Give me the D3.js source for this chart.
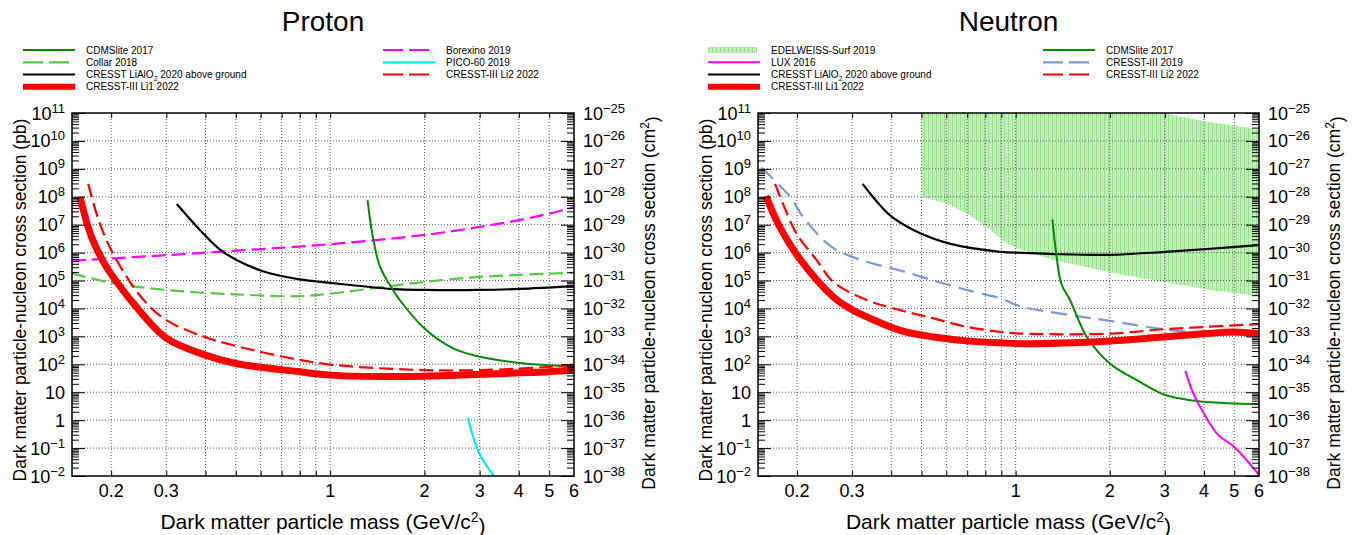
<!DOCTYPE html>
<html>
<head>
<meta charset="utf-8">
<script src="https://cdn.jsdelivr.net/npm/d3@7"></script>
<style>
  body { margin: 0; background: #fff; }
  svg { font-family: "Liberation Sans", Arial, Helvetica, sans-serif; }
</style>
</head>
<body>
<svg id="chart" width="1364" height="535"></svg>
<script>
// ---- data: [mass GeV/c^2, cross section pb] ----
const massGrid = [0.2, 0.3, 0.4, 0.5, 0.6, 0.7, 0.8, 0.9, 1, 2, 3, 4, 5];
const massLabels = [0.2, 0.3, 1, 2, 3, 4, 5, 6];
const pbExponents = d3.range(-2, 12);   // 10^-2 .. 10^11 pb
const cm2Offset = -36;                  // 1 pb = 1e-36 cm^2

// proton
const pCdmslite = [[1.316, 7.6e7], [1.368, 3.7e6], [1.443, 3.1e5], [1.586, 4.6e4], [1.668, 2e4], [2.0, 1.9e3], [2.47, 3.7e2], [3.0, 1.86e2], [4.0, 1.12e2], [5.0, 93], [6.0, 85]];
const pCollar = [[0.15, 1.8e5], [0.2, 8.3e4], [0.3, 4.6e4], [0.5, 3.2e4], [0.8, 2.75e4], [1, 3.4e4], [1.5, 6e4], [2, 8.9e4], [3, 1.35e5], [6, 1.9e5]];
const pLialo = [[0.324, 5.5e7], [0.384, 6.5e6], [0.455, 1.07e6], [0.6, 2.3e5], [0.8, 1.1e5], [1, 8.3e4], [1.6, 4.9e4], [2, 4.6e4], [3, 4.6e4], [4, 5e4], [6, 6.3e4]];
const pLi1 = [[0.159, 1e8], [0.173, 3.7e6], [0.193, 3.1e5], [0.218, 4.5e4], [0.235, 1.55e4], [0.3, 870], [0.4, 214], [0.5, 107], [0.8, 54], [1, 41], [2, 37], [3, 44], [5, 54], [6, 62]];
const pBorexino = [[0.15, 5.1e5], [0.2, 6.2e5], [0.3, 8.1e5], [0.5, 1.17e6], [1, 2e6], [2, 4.3e6], [3, 8.3e6], [4, 1.45e7], [5, 2.5e7], [6, 4.2e7]];
const pPico = [[2.75, 1.2], [3.0, 0.06], [3.38, 0.008]];
const pLi2 = [[0.169, 2.9e8], [0.184, 1.1e7], [0.208, 5.4e5], [0.254, 2e4], [0.3, 3.8e3], [0.383, 1.1e3], [0.49, 480], [0.71, 186], [1, 98], [2, 62], [3, 62], [5, 81], [6, 98]];

// neutron
const nEdelweissLow = [[0.5, 1e8], [0.6, 5.8e7], [0.7, 2.5e7], [0.83, 6.5e6], [0.935, 2.1e6], [1.06, 1.2e6], [1.32, 5.4e5], [2, 2e5], [2.96, 8.9e4], [4.09, 4.8e4], [6, 2.75e4]];
const nEdelweissHigh = [[0.5, 1e11], [2.96, 1e11], [4.09, 4.9e10], [6, 2.6e10]];
const nLux = [[3.49, 58], [3.7, 9], [4.0, 1.7], [4.45, 0.29], [5, 0.11], [6, 0.011]];
const nLialo = [[0.324, 2.9e8], [0.396, 2.2e7], [0.471, 6.5e6], [0.615, 2.1e6], [0.894, 1.07e6], [1.06, 9.8e5], [1.32, 8.9e5], [2, 8.3e5], [3, 1.07e6], [4.1, 1.35e6], [6, 1.86e6]];
const nLi1 = [[0.159, 1.05e8], [0.176, 8.3e6], [0.204, 6e5], [0.261, 2.6e4], [0.295, 1e4], [0.334, 5e3], [0.427, 1.65e3], [0.546, 950], [0.697, 690], [0.894, 590], [1.034, 550], [2, 690], [2.96, 955], [4.09, 1260], [4.97, 1450], [6, 1260]];
const nCdmslite = [[1.311, 1.55e7], [1.352, 7e5], [1.40, 7.5e4], [1.492, 2e4], [1.69, 950], [2, 107], [2.44, 27], [2.96, 8.5], [3.5, 5.5], [4.09, 4.5], [6, 3.7]];
const nCresst3 = [[0.154, 1.1e9], [0.19, 1e8], [0.209, 1.9e7], [0.258, 1.6e6], [0.334, 4.7e5], [0.427, 2.3e5], [0.546, 1e5], [0.697, 4.6e4], [0.894, 2.3e4], [1.034, 1.2e4], [1.492, 5.8e3], [2, 3.6e3], [2.96, 1.8e3], [3.8, 1.35e3]];
const nLi2 = [[0.170, 2.9e8], [0.194, 8.3e6], [0.204, 3.2e6], [0.231, 5.4e5], [0.261, 8.9e4], [0.334, 2e4], [0.427, 8.7e3], [0.546, 4.4e3], [0.697, 2.2e3], [0.894, 1.45e3], [1.034, 1.26e3], [2, 1.26e3], [2.96, 1.8e3], [4.09, 2.2e3], [6, 2.75e3]];

// ---- styles ----
const st = {
  cdms: { color: "#008a00", width: 2 },
  collar: { color: "#55cc44", width: 2.2, dash: "14,6" },
  lialo: { color: "#000", width: 2.2 },
  li1: { color: "#ff0000", width: 7 },
  borexino: { color: "#ff00ff", width: 2.2, dash: "14,6" },
  pico: { color: "#00eeee", width: 2.2 },
  li2: { color: "#ff0000", width: 2.2, dash: "14,6" },
  lux: { color: "#ff00ff", width: 2 },
  cresst3: { color: "#7b9ad6", width: 2.2, dash: "16,8" },
  edel: { fill: "url(#hatch)" }
};

const panels = [
  {
    title: "Proton", x0: 72, x1: 574,
    curves: [[pCollar, st.collar], [pBorexino, st.borexino], [pLialo, st.lialo], [pCdmslite, st.cdms], [pPico, st.pico], [pLi2, st.li2], [pLi1, st.li1]],
    legendCols: [23, 383],
    legend: [
      [0, "CDMSlite 2017", st.cdms], [0, "Collar 2018", st.collar], [0, "LIALO", st.lialo], [0, "CRESST-III Li1 2022", st.li1],
      [1, "Borexino 2019", st.borexino], [1, "PICO-60 2019", st.pico], [1, "CRESST-III Li2 2022", st.li2]
    ]
  },
  {
    title: "Neutron", x0: 758, x1: 1259,
    band: [nEdelweissLow, nEdelweissHigh],
    curves: [[nLialo, st.lialo], [nCresst3, st.cresst3], [nCdmslite, st.cdms], [nLux, st.lux], [nLi2, st.li2], [nLi1, st.li1]],
    legendCols: [708, 1043],
    legend: [
      [0, "EDELWEISS-Surf 2019", st.edel], [0, "LUX 2016", st.lux], [0, "LIALO", st.lialo], [0, "CRESST-III Li1 2022", st.li1],
      [1, "CDMSlite 2017", st.cdms], [1, "CRESST-III 2019", st.cresst3], [1, "CRESST-III Li2 2022", st.li2]
    ]
  }
];

const plotTop = 113, plotBottom = 476;
const svg = d3.select("#chart");
const defs = svg.append("defs");

let pat = defs.append("pattern").attr("id", "hatch")
  .attr("width", 4).attr("height", 3).attr("patternUnits", "userSpaceOnUse");
pat.append("rect").attr("width", 4).attr("height", 3).attr("fill", "#c4f0bb");
pat.append("rect").attr("width", 1).attr("height", 3).attr("fill", "#98dc8e");
pat.append("rect").attr("x", 2).attr("y", 1).attr("width", 1).attr("height", 1).attr("fill", "#a8e29e");

function powLabel(sel, exp) {
  if (exp === 0) { sel.text("1"); return; }
  if (exp === 1) { sel.text("10"); return; }
  sel.append("tspan").text("10");
  sel.append("tspan").attr("dy", "-7").attr("font-size", "13px")
    .text(exp < 0 ? "\u2212" + (-exp) : exp);
}

panels.forEach(function (p, pi) {
  let x = d3.scaleLog().domain([0.15, 6]).range([p.x0, p.x1]);
  let y = d3.scaleLog().domain([1e-2, 1e11]).range([plotBottom, plotTop]);
  let cx = (p.x0 + p.x1) / 2;
  let g = svg.append("g");

  defs.append("clipPath").attr("id", "clip" + pi).append("rect")
    .attr("x", p.x0).attr("y", plotTop).attr("width", p.x1 - p.x0).attr("height", plotBottom - plotTop);

  // title
  g.append("text").attr("x", cx).attr("y", 31).attr("text-anchor", "middle")
    .attr("font-size", "28px").text(p.title);

  let plot = g.append("g").attr("clip-path", "url(#clip" + pi + ")");

  // EDELWEISS band
  if (p.band) {
    let pts = p.band[0].map(d => [x(d[0]), y(d[1])])
      .concat(p.band[1].slice().reverse().map(d => [x(d[0]), y(d[1])]));
    plot.append("path").attr("d", d3.line()(pts) + "Z").attr("fill", st.edel.fill);
  }

  // grid
  plot.selectAll(".vg").data(massGrid).enter().append("line")
    .attr("x1", d => x(d)).attr("x2", d => x(d)).attr("y1", plotTop).attr("y2", plotBottom)
    .attr("stroke", "#555").attr("stroke-width", 1).attr("stroke-dasharray", "1,2");
  plot.selectAll(".hg").data(pbExponents.slice(1, -1)).enter().append("line")
    .attr("x1", p.x0).attr("x2", p.x1).attr("y1", d => y(Math.pow(10, d))).attr("y2", d => y(Math.pow(10, d)))
    .attr("stroke", "#555").attr("stroke-width", 1).attr("stroke-dasharray", "1,2");

  // curves
  let line = d3.line().x(d => x(d[0])).y(d => y(d[1])).curve(d3.curveCatmullRom.alpha(0.5));
  p.curves.forEach(function (c) {
    let s = c[1];
    plot.append("path").attr("d", line(c[0])).attr("fill", "none")
      .attr("stroke", s.color).attr("stroke-width", s.width)
      .attr("stroke-dasharray", s.dash || null).attr("stroke-linejoin", "round");
  });

  // ticks
  let major = pbExponents.map(e => Math.pow(10, e));
  let minor = [];
  pbExponents.slice(0, -1).forEach(function (e) {
    for (let k = 2; k <= 9; k++) minor.push(k * Math.pow(10, e));
  });
  let tickStyle = function (a) {
    a.select(".domain").remove();
    a.selectAll("line").attr("stroke", "#000").attr("stroke-width", 1);
  };
  g.append("g").attr("transform", "translate(" + p.x0 + ",0)")
    .call(d3.axisLeft(y).tickValues(major).tickSize(-13).tickFormat("")).call(tickStyle);
  g.append("g").attr("transform", "translate(" + p.x0 + ",0)")
    .call(d3.axisLeft(y).tickValues(minor).tickSize(-7).tickFormat("")).call(tickStyle);
  g.append("g").attr("transform", "translate(" + p.x1 + ",0)")
    .call(d3.axisRight(y).tickValues(major).tickSize(-13).tickFormat("")).call(tickStyle);
  g.append("g").attr("transform", "translate(" + p.x1 + ",0)")
    .call(d3.axisRight(y).tickValues(minor).tickSize(-7).tickFormat("")).call(tickStyle);
  g.append("g").attr("transform", "translate(0," + plotBottom + ")")
    .call(d3.axisBottom(x).tickValues(massGrid).tickSize(-5).tickFormat("")).call(tickStyle);
  g.append("g").attr("transform", "translate(0," + plotTop + ")")
    .call(d3.axisTop(x).tickValues(massGrid).tickSize(-5).tickFormat("")).call(tickStyle);

  // frame
  g.append("rect").attr("x", p.x0).attr("y", plotTop).attr("width", p.x1 - p.x0)
    .attr("height", plotBottom - plotTop).attr("fill", "none").attr("stroke", "#000").attr("stroke-width", 1.5);

  // y tick labels (left pb, right cm2)
  g.selectAll(".yl").data(pbExponents).enter().append("text")
    .attr("x", p.x0 - 7).attr("y", d => y(Math.pow(10, d)) + 6.5)
    .attr("text-anchor", "end").attr("font-size", "18px")
    .each(function (d) { powLabel(d3.select(this), d); });
  g.selectAll(".yr").data(pbExponents).enter().append("text")
    .attr("x", p.x1 + 9).attr("y", d => y(Math.pow(10, d)) + 6.5)
    .attr("font-size", "18px")
    .each(function (d) { powLabel(d3.select(this), d + cm2Offset); });

  // x tick labels
  g.selectAll(".xl").data(massLabels).enter().append("text")
    .attr("x", d => x(d)).attr("y", 497).attr("text-anchor", "middle")
    .attr("font-size", "18px").text(d => d);

  // axis titles
  let xt = g.append("text").attr("x", cx).attr("y", 529).attr("text-anchor", "middle").attr("font-size", "21px");
  xt.append("tspan").text("Dark matter particle mass (GeV/c");
  xt.append("tspan").attr("dy", "-0.5em").attr("font-size", "14px").text("2");
  xt.append("tspan").attr("dy", "0.5em").text(")");

  g.append("text").attr("transform", "translate(" + (p.x0 - 46) + ",300) rotate(-90)")
    .attr("text-anchor", "middle").attr("font-size", "17.5px")
    .text("Dark matter particle-nucleon cross section (pb)");
  let yt = g.append("text").attr("transform", "translate(" + (p.x1 + 81) + ",303) rotate(-90)")
    .attr("text-anchor", "middle").attr("font-size", "17.5px");
  yt.append("tspan").text("Dark matter particle-nucleon cross section (cm");
  yt.append("tspan").attr("dy", "-0.5em").attr("font-size", "12px").text("2");
  yt.append("tspan").attr("dy", "0.5em").text(")");

  // legend
  let rowY = [50, 62.3, 74.5, 86.7];
  let rows = [0, 0];
  p.legend.forEach(function (e) {
    let col = e[0], s = e[2];
    let lx = p.legendCols[col], ly = rowY[rows[col]++];
    if (s.fill) {
      g.append("rect").attr("x", lx).attr("y", ly - 3).attr("width", 49).attr("height", 6).attr("fill", s.fill);
    } else {
      g.append("line").attr("x1", lx).attr("x2", lx + 52).attr("y1", ly).attr("y2", ly)
        .attr("stroke", s.color).attr("stroke-width", Math.min(s.width, 6))
        .attr("stroke-dasharray", s.dash ? "20,6" : null);
    }
    let t = g.append("text").attr("x", lx + 63).attr("y", ly + 3.6).attr("font-size", "10px");
    if (e[1] === "LIALO") {
      t.append("tspan").text("CRESST LiAlO");
      t.append("tspan").attr("dy", "2.5").attr("font-size", "7px").text("2");
      t.append("tspan").attr("dy", "-2.5").text(" 2020 above ground");
    } else {
      t.text(e[1]);
    }
  });
});
</script>
</body>
</html>
